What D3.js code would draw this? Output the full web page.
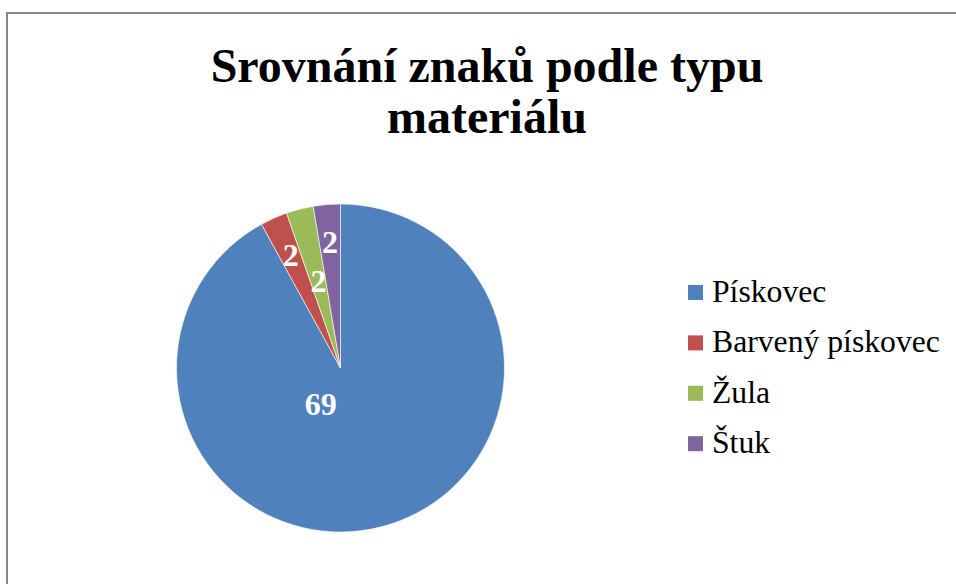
<!DOCTYPE html>
<html>
<head>
<meta charset="utf-8">
<script src="https://cdn.jsdelivr.net/npm/d3@7"></script>
<style>
  html, body { margin: 0; padding: 0; background: #fff; }
  svg { display: block; }
</style>
</head>
<body>
<div id="chart"></div>
<script>
const categories = ["Pískovec", "Barvený pískovec", "Žula", "Štuk"];
const values = [69, 2, 2, 2];
const colors = ["#4F81BD", "#C0504D", "#9BBB59", "#8064A2"];
const titleLines = ["Srovnání znaků podle typu", "materiálu"];

const data = categories.map((c, i) => ({ name: c, value: values[i], color: colors[i] }));

const width = 956, height = 584;
const cx = 340.5, cy = 368, radius = 164;

const svg = d3.select("#chart")
    .append("svg")
    .attr("width", width)
    .attr("height", height);

// chart frame (runs past the right and bottom edges)
svg.append("rect")
    .attr("x", 7)
    .attr("y", 13)
    .attr("width", 980)
    .attr("height", 620)
    .attr("fill", "#fff")
    .attr("stroke", "#868686")
    .attr("stroke-width", 2);

// title
svg.append("g")
    .selectAll("text")
    .data(titleLines)
    .enter()
    .append("text")
    .attr("x", 487)
    .attr("y", (d, i) => 82 + i * 51)
    .attr("text-anchor", "middle")
    .style("font-family", "'Liberation Serif', 'Times New Roman', serif")
    .style("font-size", "48px")
    .style("font-weight", "bold")
    .attr("fill", "#000")
    .text(d => d);

// pie
const pie = d3.pie().sort(null).value(d => d.value);
const arc = d3.arc().innerRadius(0).outerRadius(radius);
const arcs = pie(data);

const g = svg.append("g").attr("transform", `translate(${cx},${cy})`);

g.selectAll("path")
    .data(arcs)
    .enter()
    .append("path")
    .attr("d", arc)
    .attr("fill", d => d.data.color)
    .attr("stroke", "#fff")
    .attr("stroke-width", 0.6);

// data labels: small slices sit along their mid angle, staggered so they don't collide
const labelRadius = [0.26, 0.745, 0.54, 0.765];
const labelAngleShift = [0.73, 0, 0, 0]; // big slice label is nudged to the lower left
g.selectAll("text.lbl")
    .data(arcs)
    .enter()
    .append("text")
    .attr("class", "lbl")
    .attr("transform", (d, i) => {
        const a = (d.startAngle + d.endAngle) / 2 + labelAngleShift[i];
        const r = radius * labelRadius[i];
        return `translate(${r * Math.sin(a)},${-r * Math.cos(a)})`;
    })
    .attr("dy", "0.3em")
    .attr("text-anchor", "middle")
    .style("font-family", "'Liberation Serif', 'Times New Roman', serif")
    .style("font-size", "32px")
    .style("font-weight", "bold")
    .attr("fill", "#fff")
    .text(d => d.data.value);

// legend
const legend = svg.append("g").attr("transform", "translate(688,302)");
const rows = legend.selectAll("g")
    .data(data)
    .enter()
    .append("g")
    .attr("transform", (d, i) => `translate(0,${i * 50.4})`);

rows.append("rect")
    .attr("x", 0)
    .attr("y", -17)
    .attr("width", 15)
    .attr("height", 15)
    .attr("fill", d => d.color);

rows.append("text")
    .attr("x", 24)
    .attr("y", 0)
    .style("font-family", "'Liberation Serif', 'Times New Roman', serif")
    .style("font-size", "31.7px")
    .attr("fill", "#000")
    .text(d => d.name);
</script>
</body>
</html>
